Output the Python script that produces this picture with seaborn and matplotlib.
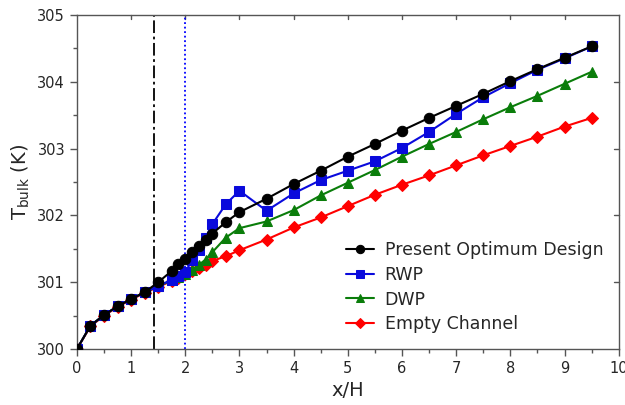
import numpy as np
import pandas as pd
import seaborn as sns
import matplotlib.pyplot as plt
from matplotlib.ticker import MultipleLocator

# x/H stations
x_opt = [0, 0.25, 0.5, 0.75, 1.0, 1.25, 1.5, 1.75, 1.875, 2.0, 2.125, 2.25, 2.375, 2.5,
         2.75, 3.0, 3.5, 4.0, 4.5, 5.0, 5.5, 6.0, 6.5, 7.0, 7.5, 8.0, 8.5, 9.0, 9.5]
x_other = x_opt

t_opt = [300.0, 300.35, 300.51, 300.64, 300.75, 300.85, 301.0, 301.17, 301.27, 301.35,
         301.46, 301.55, 301.64, 301.73, 301.9, 302.05, 302.25, 302.47, 302.67, 302.88,
         303.07, 303.27, 303.46, 303.64, 303.82, 304.01, 304.19, 304.36, 304.53]
t_rwp = [300.0, 300.35, 300.51, 300.64, 300.75, 300.85, 300.94, 301.04, 301.09, 301.15,
         301.33, 301.48, 301.67, 301.87, 302.17, 302.37, 302.07, 302.33, 302.53, 302.67,
         302.81, 303.01, 303.25, 303.52, 303.77, 303.98, 304.18, 304.35, 304.53]
t_dwp = [300.0, 300.35, 300.51, 300.64, 300.75, 300.85, 300.94, 301.03, 301.08, 301.13,
         301.19, 301.26, 301.34, 301.45, 301.67, 301.81, 301.91, 302.08, 302.30, 302.49,
         302.68, 302.88, 303.07, 303.25, 303.44, 303.62, 303.79, 303.97, 304.15]
t_empty = [300.0, 300.34, 300.5, 300.63, 300.74, 300.84, 300.93, 301.02, 301.07, 301.12,
           301.17, 301.21, 301.26, 301.32, 301.39, 301.48, 301.64, 301.82, 301.97, 302.14,
           302.31, 302.46, 302.60, 302.75, 302.90, 303.04, 303.18, 303.33, 303.46]

labels = ["Present Optimum Design", "RWP", "DWP", "Empty Channel"]
colors = ["black", "#0a0adc", "#0a7d0a", "#ff0000"]
markers = ["o", "s", "^", "D"]
msizes = [7.5, 6.5, 7, 6]

x_line_opt = 1.42   # dash-dot marker line
x_line_rwp = 2.0    # dotted marker line

df = pd.concat([
    pd.DataFrame({"x": x_opt, "T": t_opt, "case": labels[0]}),
    pd.DataFrame({"x": x_other, "T": t_rwp, "case": labels[1]}),
    pd.DataFrame({"x": x_other, "T": t_dwp, "case": labels[2]}),
    pd.DataFrame({"x": x_other, "T": t_empty, "case": labels[3]}),
])

sns.set_style("white")
plt.rcParams['font.family'] = ['DejaVu Sans']

fig, ax = plt.subplots(figsize=(6.25, 4.05), dpi=100)
fig.subplots_adjust(left=0.123, right=0.99, top=0.963, bottom=0.138)

ax.axvline(x_line_opt, color="black", ls=(0, (7, 2, 1.5, 2)), lw=1.3, zorder=1)
ax.axvline(x_line_rwp, color="#0000ff", ls=(0, (1, 1.5)), lw=1.3, zorder=1)

# draw in reverse so the optimum design sits on top
for i in [3, 2, 1, 0]:
    sub = df[df["case"] == labels[i]]
    sns.lineplot(data=sub, x="x", y="T", ax=ax, color=colors[i], marker=markers[i],
                 markersize=msizes[i], markeredgecolor=colors[i], lw=1.5,
                 label=labels[i], zorder=5 - i, estimator=None, sort=False)

handles, labs = ax.get_legend_handles_labels()
order = [labs.index(l) for l in labels]
ax.legend([handles[k] for k in order], [labs[k] for k in order], loc="lower right",
          bbox_to_anchor=(1.0, 0.0), frameon=False, fontsize=12.5, handlelength=1.6,
          handletextpad=0.6, labelspacing=0.4, markerscale=0.8)

ax.set_xlim(0, 10)
ax.set_ylim(300, 305)
ax.xaxis.set_major_locator(MultipleLocator(1))
ax.xaxis.set_minor_locator(MultipleLocator(0.5))
ax.yaxis.set_major_locator(MultipleLocator(1))
ax.yaxis.set_minor_locator(MultipleLocator(0.5))
ax.tick_params(which="major", direction="out", length=5, width=1, labelsize=10.5,
               bottom=True, left=True, top=False, right=False, color="#555555")
ax.tick_params(which="minor", direction="out", length=3, width=1,
               bottom=True, left=True, color="#555555")

# inward major ticks on top/right
for xv in range(1, 10):
    ax.plot([xv, xv], [305, 305 - 0.06], color="#555555", lw=1, clip_on=False, zorder=0)
for yv in range(301, 305):
    ax.plot([10, 10 - 0.08], [yv, yv], color="#555555", lw=1, clip_on=False, zorder=0)

for s in ax.spines.values():
    s.set_color("#555555")
    s.set_linewidth(1)

ax.set_xlabel("x/H", fontsize=14)
ax.set_ylabel(r"T$_{\mathrm{bulk}}$ (K)", fontsize=14)

fig.savefig("out.png", dpi=100)
